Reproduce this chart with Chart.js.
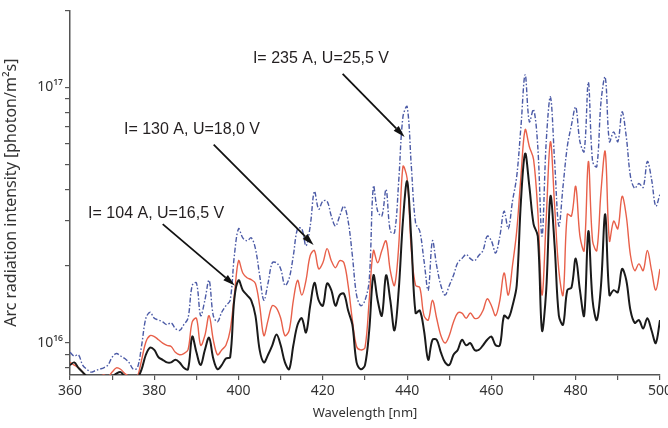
<!DOCTYPE html>
<html>
<head>
<meta charset="utf-8">
<script src="https://cdn.jsdelivr.net/npm/chart.js@4.4.1/dist/chart.umd.min.js"></script>
<style>
  html, body { margin: 0; padding: 0; background: #fff; }
</style>
</head>
<body>
<canvas id="spectrum" width="668" height="428"></canvas>
<script>
// wavelength grid, nm (one reading per nm)
const wavelengths = [];
for (let nm = 360; nm <= 500; nm++) wavelengths.push(nm);

// intensities in units of 1e16 photon/m2s
const black104 = [
  0.82, 0.84, 0.80, 0.77, 0.74, 0.73, 0.73, 0.74, 0.73, 0.74,
  0.74, 0.76, 0.77, 0.74, 0.73, 0.72, 0.73, 0.79, 0.90, 0.96,
  0.94, 0.88, 0.86, 0.84, 0.84, 0.86, 0.84, 0.80, 0.79, 1.06,
  0.92, 0.82, 0.94, 1.05, 0.87, 0.79, 0.82, 0.87, 0.88, 1.49,
  1.76, 1.61, 1.54, 1.47, 1.28, 0.94, 0.84, 0.90, 0.98, 1.08,
  0.98, 0.84, 0.79, 0.98, 1.18, 1.25, 1.10, 1.40, 1.72, 1.47,
  1.40, 1.71, 1.61, 1.40, 1.54, 1.56, 1.34, 1.18, 0.84, 0.79,
  0.82, 1.12, 1.84, 1.47, 1.28, 1.84, 1.47, 1.12, 1.61, 3.00,
  4.29, 2.51, 1.31, 1.34, 1.12, 0.86, 1.03, 1.03, 0.92, 0.84,
  0.82, 0.90, 0.94, 1.03, 0.98, 1.00, 0.94, 0.94, 0.98, 1.03,
  1.06, 0.98, 0.98, 1.28, 1.25, 1.40, 1.68, 3.59, 5.51, 4.10,
  2.92, 2.62, 1.12, 1.61, 3.75, 2.40, 1.28, 1.18, 1.61, 1.65,
  2.14, 1.61, 1.28, 2.74, 1.47, 1.23, 1.68, 3.19, 1.54, 1.61,
  1.58, 1.95, 1.76, 1.34, 1.20, 1.23, 1.14, 1.25, 1.12, 1.00,
  1.23
];
const red130 = [
  0.84, 0.82, 0.80, 0.77, 0.74, 0.74, 0.74, 0.74, 0.75, 0.74,
  0.77, 0.80, 0.79, 0.76, 0.74, 0.72, 0.74, 0.86, 1.01, 1.07,
  1.06, 1.03, 1.00, 0.98, 0.97, 0.92, 0.90, 0.91, 0.94, 1.21,
  1.25, 0.98, 1.07, 1.28, 1.03, 0.90, 0.94, 0.98, 1.12, 1.54,
  2.10, 1.88, 1.80, 1.77, 1.71, 1.40, 1.07, 1.23, 1.40, 1.37,
  1.25, 1.07, 1.12, 1.47, 1.76, 1.54, 1.76, 2.20, 2.30, 1.95,
  2.06, 2.34, 2.10, 1.97, 2.10, 2.06, 1.68, 1.23, 0.97, 0.94,
  0.96, 1.47, 2.30, 2.06, 2.30, 2.51, 1.92, 1.68, 2.40, 4.90,
  4.40, 2.30, 1.68, 1.65, 1.28, 1.23, 1.47, 1.25, 1.07, 1.00,
  1.07, 1.21, 1.31, 1.31, 1.25, 1.31, 1.25, 1.26, 1.34, 1.49,
  1.40, 1.28, 1.47, 1.88, 1.54, 2.01, 2.74, 4.48, 6.83, 5.86,
  5.23, 3.28, 1.54, 3.07, 6.13, 3.43, 1.92, 1.54, 3.19, 3.14,
  4.10, 2.62, 2.30, 5.13, 2.51, 2.30, 3.92, 5.61, 2.51, 3.00,
  2.80, 3.75, 3.14, 2.20, 1.92, 2.04, 1.92, 2.30, 1.92, 1.61,
  1.95
];
const blue235 = [
  0.92, 0.89, 0.90, 0.82, 0.79, 0.77, 0.78, 0.79, 0.80, 0.82,
  0.88, 0.91, 0.89, 0.87, 0.84, 0.79, 0.80, 0.98, 1.25, 1.32,
  1.25, 1.23, 1.21, 1.18, 1.20, 1.14, 1.12, 1.18, 1.25, 1.68,
  1.72, 1.28, 1.47, 1.76, 1.28, 1.21, 1.32, 1.40, 1.47, 2.20,
  2.80, 2.58, 2.51, 2.58, 2.34, 1.84, 1.47, 1.72, 2.06, 2.06,
  1.95, 1.68, 1.79, 2.20, 2.80, 2.80, 2.40, 2.87, 3.92, 3.34,
  3.59, 3.59, 3.14, 2.87, 3.14, 3.43, 3.00, 2.20, 1.54, 1.40,
  1.47, 1.76, 4.10, 3.28, 3.14, 3.99, 2.74, 2.70, 4.30, 7.67,
  8.40, 4.90, 2.95, 2.74, 2.10, 1.61, 2.51, 2.01, 1.68, 1.54,
  1.68, 1.84, 2.06, 2.14, 2.22, 2.14, 2.10, 2.20, 2.30, 2.62,
  2.51, 2.25, 2.62, 3.28, 2.80, 3.59, 4.48, 7.01, 11.2, 7.33,
  8.20, 5.86, 2.62, 6.13, 9.17, 5.13, 2.87, 4.12, 5.86, 7.13,
  8.38, 6.13, 5.61, 10.48, 5.13, 4.90, 8.77, 10.96, 6.13, 6.70,
  6.13, 8.02, 6.41, 4.48, 4.03, 4.21, 4.06, 5.13, 4.37, 3.43,
  3.82
];

const UNIT = 1e16;
const yTickValues = [0.8, 0.9, 1, 2, 3, 4, 5, 6, 7, 8, 9, 10, 20];
const yTickLabels = { 1: '10¹⁶', 10: '10¹⁷' };

// callouts: label anchor and arrow from/to, in (nm, 1e16 units)
const callouts = [
  { text: 'I= 235 A, U=25,5 V', at: [403.4, 12.9], from: [424.7, 11.3], to: [439.4, 6.4] },
  { text: 'I= 130 A, U=18,0 V', at: [372.8, 6.83], from: [394.1, 5.97], to: [417.8, 2.42] },
  { text: 'I= 104 A, U=16,5 V', at: [364.3, 3.22], from: [382.0, 2.92], to: [399.1, 1.68] }
];

function toPoints(vals) {
  return wavelengths.map((nm, i) => ({ x: nm, y: vals[i] * UNIT }));
}

const calloutPlugin = {
  id: 'callouts',
  afterDatasetsDraw(chart) {
    const { ctx, scales: { x, y } } = chart;
    ctx.save();
    ctx.font = '16px "Liberation Sans", Arial, sans-serif';
    ctx.textBaseline = 'middle';
    ctx.textAlign = 'left';
    ctx.strokeStyle = '#111';
    callouts.forEach(c => {
      ctx.fillStyle = '#231f20';
      ctx.fillText(c.text, x.getPixelForValue(c.at[0]), y.getPixelForValue(c.at[1] * UNIT));
      const x1 = x.getPixelForValue(c.from[0]), y1 = y.getPixelForValue(c.from[1] * UNIT);
      const x2 = x.getPixelForValue(c.to[0]), y2 = y.getPixelForValue(c.to[1] * UNIT);
      const ang = Math.atan2(y2 - y1, x2 - x1);
      const len = 12, half = 3.5;
      const bx = x2 - len * Math.cos(ang), by = y2 - len * Math.sin(ang);
      ctx.lineWidth = 1.8;
      ctx.beginPath();
      ctx.moveTo(x1, y1);
      ctx.lineTo(bx, by);
      ctx.stroke();
      ctx.beginPath();
      ctx.moveTo(x2, y2);
      ctx.lineTo(bx + half * Math.sin(ang), by - half * Math.cos(ang));
      ctx.lineTo(bx - half * Math.sin(ang), by + half * Math.cos(ang));
      ctx.closePath();
      ctx.fillStyle = '#111';
      ctx.fill();
    });
    ctx.restore();
  }
};

const tickFont = { family: '"Noto Sans", sans-serif', size: 14 };

new Chart(document.getElementById('spectrum'), {
  type: 'line',
  data: {
    datasets: [
      {
        label: 'I= 104 A, U=16,5 V',
        data: toPoints(black104),
        borderColor: '#1a1a1a',
        borderWidth: 2,
        pointRadius: 0,
        tension: 0.35
      },
      {
        label: 'I= 130 A, U=18,0 V',
        data: toPoints(red130),
        borderColor: '#e8604a',
        borderWidth: 1.4,
        pointRadius: 0,
        tension: 0.35
      },
      {
        label: 'I= 235 A, U=25,5 V',
        data: toPoints(blue235),
        borderColor: '#4b5aa6',
        borderWidth: 1.4,
        borderDash: [5, 2, 1.5, 2],
        pointRadius: 0,
        tension: 0.35
      }
    ]
  },
  options: {
    responsive: false,
    animation: false,
    layout: { padding: { top: 8, right: 8, left: 0, bottom: 0 } },
    plugins: {
      legend: { display: false },
      tooltip: { enabled: false }
    },
    scales: {
      x: {
        type: 'linear',
        min: 360,
        max: 500,
        afterFit(scale) { scale.height = 53; scale.paddingLeft = 0; scale.paddingRight = 0; },
        ticks: {
          stepSize: 10,
          autoSkip: false,
          maxRotation: 0,
          padding: 3,
          color: '#333',
          font: tickFont,
          callback: v => (v % 20 === 0 ? String(v) : '')
        },
        grid: { drawOnChartArea: false, drawTicks: true, tickLength: 5, color: '#555', lineWidth: 1.2 },
        border: { display: true, color: '#555', width: 1.5 },
        title: {
          display: true,
          text: 'Wavelength [nm]',
          color: '#333',
          font: { family: '"Noto Sans", sans-serif', size: 13 },
          padding: { top: 0, bottom: 7 }
        }
      },
      y: {
        type: 'logarithmic',
        min: 0.75 * UNIT,
        max: 20 * UNIT,
        afterFit(scale) { scale.width = 70; },
        afterBuildTicks(scale) {
          scale.ticks = yTickValues.map(v => ({ value: v * UNIT }));
        },
        ticks: {
          autoSkip: false,
          padding: 2,
          color: '#333',
          font: tickFont,
          callback: v => yTickLabels[Math.round(v / UNIT * 10) / 10] || ''
        },
        grid: { drawOnChartArea: false, drawTicks: true, tickLength: 5, color: '#555', lineWidth: 1.2 },
        border: { display: true, color: '#555', width: 1.5 },
        title: {
          display: true,
          text: 'Arc radiation intensity [photon/m²s]',
          color: '#333',
          font: { family: '"Noto Sans", sans-serif', size: 16 },
          padding: { top: 2, bottom: 0 }
        }
      }
    }
  },
  plugins: [calloutPlugin]
});
</script>
</body>
</html>
